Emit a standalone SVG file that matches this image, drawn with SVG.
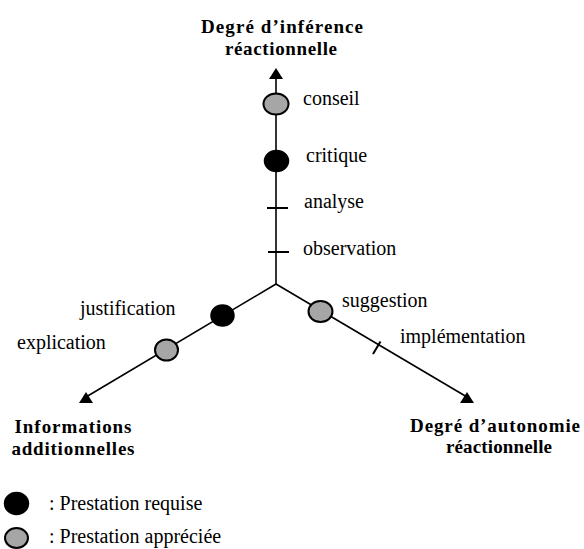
<svg xmlns="http://www.w3.org/2000/svg" width="584" height="549" viewBox="0 0 584 549">
<style>
.ax{stroke:#000;stroke-width:1.6;fill:none}
.hd{fill:#000}
.tk{stroke:#000;stroke-width:2}
.req{fill:#000;stroke:#000;stroke-width:1.5}
.app{fill:#a6a6a6;stroke:#000;stroke-width:2}
.lb{font-family:"Liberation Serif",serif;font-size:20px;fill:#000}
.tt{font-family:"Liberation Serif",serif;font-size:19px;font-weight:bold;fill:#000;text-anchor:middle}
</style>
<g id="connectors">
<line class="ax" x1="276" y1="284" x2="276" y2="76"/>
<polygon class="hd" points="269,79 283,79 276,68"/>
<line class="ax" x1="276" y1="284" x2="86" y2="397"/>
<polygon class="hd" points="79,403 93,403 86,392"/>
<line class="ax" x1="276" y1="284" x2="467" y2="397"/>
<polygon class="hd" points="460,403 474,403 467,392"/>
</g>
<g id="conseil"><ellipse class="app" cx="276" cy="104" rx="12.5" ry="10.5"/><text class="lb" x="303" y="105">conseil</text></g>
<g id="critique"><ellipse class="req" cx="276.5" cy="161" rx="12" ry="10.5"/><text class="lb" x="306" y="162">critique</text></g>
<g id="analyse"><line class="tk" x1="267" y1="208" x2="288" y2="208"/><text class="lb" x="304" y="208">analyse</text></g>
<g id="observation"><line class="tk" x1="268" y1="252" x2="289" y2="252"/><text class="lb" x="303" y="255">observation</text></g>
<g id="justification"><ellipse class="req" cx="222.5" cy="315.5" rx="11.5" ry="10.5"/><text class="lb" x="80" y="315">justification</text></g>
<g id="explication"><ellipse class="app" cx="166.5" cy="350" rx="11.5" ry="10.5"/><text class="lb" x="17" y="349">explication</text></g>
<g id="suggestion"><ellipse class="app" cx="320.5" cy="311.5" rx="12" ry="10.5"/><text class="lb" x="342" y="307">suggestion</text></g>
<g id="implementation"><line class="tk" x1="373" y1="354" x2="380.5" y2="341.5"/><text class="lb" x="400" y="343">implémentation</text></g>
<g id="axis-top"><text class="tt" x="282" y="33" textLength="162" lengthAdjust="spacing">Degré d’inférence</text><text class="tt" x="281" y="55" textLength="112" lengthAdjust="spacing">réactionnelle</text></g>
<g id="axis-left"><text class="tt" x="73" y="433" textLength="117" lengthAdjust="spacing">Informations</text><text class="tt" x="73" y="455" textLength="123" lengthAdjust="spacing">additionnelles</text></g>
<g id="axis-right"><text class="tt" x="495" y="432" textLength="170" lengthAdjust="spacing">Degré d’autonomie</text><text class="tt" x="499" y="453" textLength="106" lengthAdjust="spacing">réactionnelle</text></g>
<g id="legend">
<ellipse class="req" cx="16.5" cy="503.5" rx="12" ry="11"/><text class="lb" x="49" y="510">: Prestation requise</text>
<ellipse class="app" cx="16.5" cy="538" rx="11.5" ry="10"/><text class="lb" x="49" y="543">: Prestation appréciée</text>
</g>
</svg>
